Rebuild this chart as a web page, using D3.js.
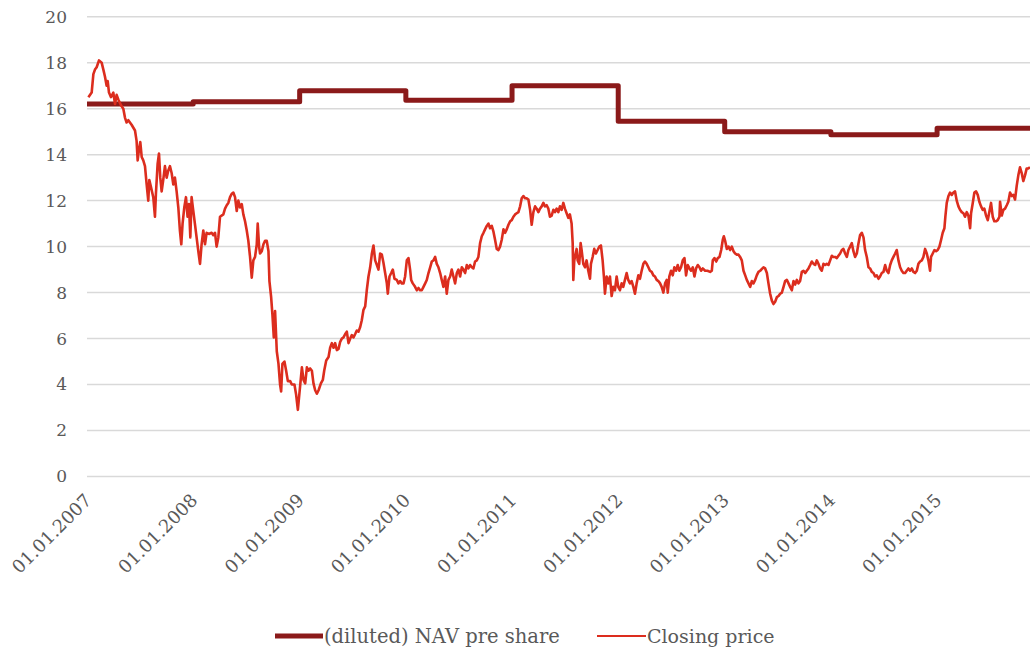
<!DOCTYPE html>
<html>
<head>
<meta charset="utf-8">
<script src="https://cdn.jsdelivr.net/npm/d3@7"></script>
<style>
  html, body { margin: 0; padding: 0; background: #fff; }
  svg { display: block; }
  text { font-family: "DejaVu Serif", "Liberation Serif", serif; fill: #595959; }
</style>
</head>
<body>
<svg id="chart" width="1030" height="650"></svg>
<script>
// ---------- DATA ----------
const yTicks = [0, 2, 4, 6, 8, 10, 12, 14, 16, 18, 20];
const xTickYears = [2007, 2008, 2009, 2010, 2011, 2012, 2013, 2014, 2015];
const seriesNames = ["(diluted) NAV pre share", "Closing price"];

// NAV per share: value valid from start year until next step
const navStart = [2007, 2008, 2009, 2010, 2011, 2012, 2013, 2014, 2015, 2015.875];
const navValue = [16.2, 16.3, 16.78, 16.37, 17.0, 15.45, 15.0, 14.87, 15.15, 15.15];

// Closing price: [decimal year, price]
const closingPrice = [
[2007.013,16.5],[2007.044,16.7],[2007.060,17.5],[2007.075,17.7],[2007.091,17.8],[2007.113,18.1],[2007.138,18.0],[2007.154,17.7],[2007.169,17.4],[2007.185,17.0],[2007.195,17.2],[2007.207,16.7],[2007.226,16.5],[2007.248,16.7],[2007.264,16.2],[2007.279,16.6],[2007.295,16.4],[2007.320,16.15],[2007.342,16.0],[2007.358,15.6],[2007.373,15.4],[2007.389,15.5],[2007.420,15.3],[2007.452,15.05],[2007.467,14.6],[2007.477,13.75],[2007.489,14.2],[2007.502,14.55],[2007.515,13.9],[2007.530,13.75],[2007.546,13.5],[2007.562,12.7],[2007.577,12.0],[2007.587,12.9],[2007.602,12.6],[2007.624,12.15],[2007.640,11.3],[2007.649,12.3],[2007.665,13.6],[2007.678,14.05],[2007.690,13.0],[2007.703,12.4],[2007.718,12.9],[2007.734,13.5],[2007.750,13.0],[2007.765,13.3],[2007.781,13.5],[2007.797,13.2],[2007.813,12.7],[2007.828,13.0],[2007.844,12.4],[2007.860,11.7],[2007.875,10.7],[2007.888,10.1],[2007.900,11.0],[2007.916,11.7],[2007.932,12.15],[2007.947,11.3],[2007.960,11.85],[2007.973,10.4],[2007.985,12.15],
[2008.001,11.55],[2008.016,11.0],[2008.032,10.4],[2008.048,9.8],[2008.064,9.25],[2008.079,10.1],[2008.095,10.7],[2008.111,10.1],[2008.126,10.6],[2008.148,10.55],[2008.173,10.6],[2008.189,10.5],[2008.205,10.6],[2008.220,10.0],[2008.236,10.4],[2008.252,11.3],[2008.267,11.35],[2008.283,11.4],[2008.299,11.65],[2008.315,11.8],[2008.330,11.9],[2008.346,12.15],[2008.362,12.3],[2008.377,12.35],[2008.393,12.15],[2008.409,11.55],[2008.424,12.0],[2008.440,11.7],[2008.456,11.85],[2008.471,11.4],[2008.487,11.1],[2008.503,10.7],[2008.518,10.25],[2008.534,9.55],[2008.550,8.65],[2008.565,9.4],[2008.581,9.55],[2008.597,10.1],[2008.606,11.0],[2008.619,10.0],[2008.628,9.7],[2008.644,9.8],[2008.660,10.1],[2008.675,10.25],[2008.691,10.25],[2008.707,9.8],[2008.716,8.5],[2008.732,7.8],[2008.744,7.05],[2008.757,6.05],[2008.769,7.2],[2008.785,5.45],[2008.801,4.9],[2008.816,4.0],[2008.826,3.7],[2008.838,4.9],[2008.857,5.0],[2008.873,4.6],[2008.889,4.15],[2008.911,4.15],[2008.926,4.0],[2008.951,4.0],[2008.967,3.55],[2008.983,2.9],
[2009.021,4.75],[2009.036,4.2],[2009.052,4.05],[2009.068,4.75],[2009.083,4.6],[2009.099,4.7],[2009.115,4.6],[2009.130,4.05],[2009.146,3.75],[2009.162,3.6],[2009.178,3.75],[2009.200,4.05],[2009.218,4.2],[2009.231,4.6],[2009.250,5.05],[2009.272,5.2],[2009.287,5.6],[2009.303,5.8],[2009.319,5.6],[2009.334,5.8],[2009.350,5.5],[2009.366,5.55],[2009.381,5.85],[2009.397,6.0],[2009.413,6.05],[2009.429,6.2],[2009.444,6.3],[2009.460,5.8],[2009.476,6.0],[2009.491,6.15],[2009.507,6.05],[2009.523,6.2],[2009.538,6.35],[2009.554,6.3],[2009.570,6.5],[2009.585,6.8],[2009.601,7.25],[2009.617,7.4],[2009.632,8.1],[2009.648,8.7],[2009.664,9.1],[2009.680,9.7],[2009.695,10.05],[2009.711,9.4],[2009.727,9.2],[2009.742,9.0],[2009.758,9.7],[2009.774,9.65],[2009.789,9.3],[2009.805,8.85],[2009.821,8.4],[2009.830,7.95],[2009.846,8.7],[2009.862,8.85],[2009.877,9.0],[2009.893,8.6],[2009.915,8.55],[2009.930,8.4],[2009.946,8.5],[2009.962,8.4],[2009.978,8.4],[2009.993,8.7],
[2010.009,9.4],[2010.025,9.5],[2010.040,9.0],[2010.050,8.55],[2010.065,8.4],[2010.087,8.25],[2010.103,8.1],[2010.119,8.2],[2010.134,8.1],[2010.150,8.1],[2010.166,8.25],[2010.182,8.4],[2010.197,8.55],[2010.213,8.85],[2010.229,9.1],[2010.244,9.35],[2010.260,9.4],[2010.276,9.55],[2010.291,9.25],[2010.307,9.1],[2010.323,8.85],[2010.338,8.55],[2010.354,8.25],[2010.370,8.7],[2010.385,7.95],[2010.401,8.55],[2010.417,8.7],[2010.432,9.0],[2010.448,8.7],[2010.464,8.4],[2010.480,8.85],[2010.495,9.0],[2010.511,8.7],[2010.527,9.1],[2010.542,9.0],[2010.558,8.85],[2010.574,9.2],[2010.589,9.05],[2010.605,9.2],[2010.621,9.1],[2010.636,9.05],[2010.652,9.35],[2010.668,9.4],[2010.683,9.55],[2010.699,10.15],[2010.715,10.45],[2010.731,10.6],[2010.746,10.75],[2010.762,10.9],[2010.778,11.0],[2010.793,10.8],[2010.809,10.9],[2010.825,10.65],[2010.840,10.3],[2010.856,9.9],[2010.872,9.85],[2010.887,10.0],[2010.903,10.3],[2010.919,10.75],[2010.934,10.6],[2010.950,10.75],[2010.966,10.95],[2010.982,11.1],[2010.997,11.15],
[2011.013,11.3],[2011.029,11.4],[2011.044,11.45],[2011.060,11.5],[2011.076,11.75],[2011.091,12.1],[2011.107,12.2],[2011.123,12.1],[2011.138,12.1],[2011.154,12.05],[2011.170,11.6],[2011.185,10.95],[2011.201,11.5],[2011.217,11.75],[2011.232,11.65],[2011.248,11.5],[2011.263,11.65],[2011.279,11.75],[2011.295,11.9],[2011.310,11.75],[2011.326,11.8],[2011.342,11.65],[2011.357,11.3],[2011.373,11.35],[2011.389,11.6],[2011.404,11.5],[2011.420,11.65],[2011.436,11.5],[2011.451,11.75],[2011.467,11.6],[2011.483,11.9],[2011.498,11.65],[2011.514,11.45],[2011.530,11.25],[2011.545,11.4],[2011.561,11.0],[2011.571,10.15],[2011.577,8.55],[2011.586,9.4],[2011.599,9.7],[2011.608,9.9],[2011.618,9.4],[2011.633,9.25],[2011.646,10.15],[2011.655,9.85],[2011.671,9.25],[2011.687,9.1],[2011.702,9.4],[2011.718,8.95],[2011.734,8.6],[2011.743,9.25],[2011.759,9.55],[2011.774,9.9],[2011.790,9.7],[2011.806,9.85],[2011.822,10.0],[2011.837,10.05],[2011.853,9.4],[2011.865,8.7],[2011.875,7.95],[2011.891,8.7],[2011.906,8.4],[2011.922,8.7],[2011.938,7.85],[2011.953,8.25],[2011.969,8.1],[2011.985,8.7],
[2012.000,8.25],[2012.016,8.1],[2012.032,8.4],[2012.047,8.25],[2012.063,8.55],[2012.079,8.85],[2012.094,8.55],[2012.110,8.4],[2012.126,8.5],[2012.142,8.25],[2012.157,7.95],[2012.173,8.4],[2012.189,8.75],[2012.204,8.6],[2012.220,8.95],[2012.236,9.25],[2012.251,9.35],[2012.267,9.25],[2012.283,9.1],[2012.298,8.95],[2012.314,8.9],[2012.330,8.75],[2012.345,8.7],[2012.361,8.55],[2012.377,8.5],[2012.393,8.4],[2012.408,8.25],[2012.424,8.0],[2012.440,8.4],[2012.455,8.55],[2012.465,8.0],[2012.480,8.7],[2012.496,8.95],[2012.512,8.75],[2012.527,9.1],[2012.543,8.95],[2012.559,9.2],[2012.574,8.95],[2012.590,9.1],[2012.606,9.4],[2012.622,9.5],[2012.637,8.75],[2012.653,9.2],[2012.669,9.05],[2012.684,8.95],[2012.700,9.1],[2012.716,8.7],[2012.731,9.05],[2012.747,9.2],[2012.763,9.1],[2012.778,8.95],[2012.794,9.05],[2012.816,8.95],[2012.838,8.95],[2012.863,8.9],[2012.879,8.95],[2012.888,9.4],[2012.904,9.5],[2012.920,9.35],[2012.935,9.5],[2012.951,9.55],[2012.967,9.85],[2012.982,10.3],[2012.992,10.45],
[2013.004,10.25],[2013.020,9.9],[2013.036,10.0],[2013.051,9.85],[2013.067,10.0],[2013.083,9.8],[2013.098,9.7],[2013.114,9.65],[2013.130,9.65],[2013.145,9.55],[2013.161,9.4],[2013.177,8.95],[2013.193,8.75],[2013.208,8.55],[2013.224,8.4],[2013.240,8.25],[2013.255,8.5],[2013.271,8.4],[2013.287,8.55],[2013.302,8.75],[2013.318,8.9],[2013.334,8.95],[2013.365,9.1],[2013.381,9.05],[2013.397,8.85],[2013.412,8.4],[2013.428,7.95],[2013.444,7.65],[2013.459,7.5],[2013.475,7.6],[2013.491,7.8],[2013.507,7.85],[2013.522,7.95],[2013.538,8.0],[2013.554,8.25],[2013.569,8.5],[2013.585,8.55],[2013.601,8.4],[2013.616,8.25],[2013.632,8.1],[2013.648,8.5],[2013.663,8.35],[2013.679,8.55],[2013.695,8.4],[2013.710,8.5],[2013.726,8.9],[2013.742,8.95],[2013.758,8.85],[2013.773,8.95],[2013.789,9.05],[2013.805,9.2],[2013.820,9.35],[2013.836,9.25],[2013.852,9.2],[2013.867,9.4],[2013.883,9.25],[2013.899,9.05],[2013.914,8.95],[2013.930,9.25],[2013.946,9.2],[2013.961,9.25],[2013.977,9.2],[2013.993,9.4],
[2014.009,9.6],[2014.024,9.55],[2014.040,9.55],[2014.056,9.5],[2014.071,9.6],[2014.087,9.7],[2014.103,9.85],[2014.118,9.9],[2014.134,9.7],[2014.150,9.55],[2014.165,9.85],[2014.181,10.0],[2014.197,10.15],[2014.212,9.8],[2014.228,9.55],[2014.244,9.7],[2014.260,10.15],[2014.275,10.5],[2014.291,10.6],[2014.307,10.4],[2014.322,9.85],[2014.338,9.55],[2014.354,9.1],[2014.369,9.05],[2014.385,8.9],[2014.401,8.85],[2014.416,8.7],[2014.432,8.75],[2014.448,8.6],[2014.463,8.7],[2014.479,8.85],[2014.495,8.9],[2014.511,9.2],[2014.526,8.95],[2014.542,8.85],[2014.558,9.2],[2014.573,9.4],[2014.589,9.55],[2014.605,9.7],[2014.620,9.85],[2014.636,9.4],[2014.652,9.1],[2014.667,8.95],[2014.683,8.85],[2014.699,8.85],[2014.714,8.95],[2014.730,9.05],[2014.746,8.95],[2014.762,9.05],[2014.777,8.9],[2014.793,8.85],[2014.809,8.95],[2014.824,9.25],[2014.840,9.35],[2014.856,9.4],[2014.871,9.55],[2014.887,9.9],[2014.903,9.7],[2014.918,9.4],[2014.934,8.95],[2014.943,9.55],[2014.959,9.7],[2014.975,9.85],[2014.991,9.8],
[2015.006,9.85],[2015.022,10.0],[2015.038,10.3],[2015.053,10.6],[2015.069,10.8],[2015.078,11.3],[2015.091,11.9],[2015.107,12.2],[2015.122,12.35],[2015.138,12.25],[2015.154,12.35],[2015.169,12.4],[2015.185,12.0],[2015.201,11.75],[2015.216,11.6],[2015.232,11.5],[2015.248,11.45],[2015.263,11.3],[2015.279,11.5],[2015.295,11.35],[2015.311,10.8],[2015.320,11.45],[2015.336,11.9],[2015.351,12.35],[2015.367,12.4],[2015.383,12.25],[2015.398,11.95],[2015.414,11.75],[2015.430,11.6],[2015.445,11.65],[2015.461,11.35],[2015.477,11.15],[2015.492,11.5],[2015.508,11.9],[2015.524,11.3],[2015.539,11.1],[2015.555,11.1],[2015.571,11.15],[2015.587,11.3],[2015.593,11.95],[2015.609,11.35],[2015.624,11.6],[2015.640,11.65],[2015.656,11.8],[2015.671,11.95],[2015.687,12.35],[2015.703,12.2],[2015.718,12.25],[2015.734,12.05],[2015.750,12.65],[2015.765,13.1],[2015.781,13.45],[2015.797,13.2],[2015.812,12.85],[2015.828,13.1],[2015.844,13.4],[2015.859,13.4],[2015.875,13.45]
];

const xDomainYears = [2007, 2015.875];

// ---------- HELPERS ----------
function yearToDate(t) {
  const y = Math.floor(t);
  const a = Date.UTC(y, 0, 1), b = Date.UTC(y + 1, 0, 1);
  return new Date(a + (t - y) * (b - a));
}

// ---------- LAYOUT ----------
const svg = d3.select("#chart");
const W = 1030, H = 650;
const margin = { left: 87, right: 0, top: 16.7, bottom: 650 - 476.5 };

const x = d3.scaleUtc()
  .domain(xDomainYears.map(yearToDate))
  .range([margin.left, W - margin.right]);
const y = d3.scaleLinear()
  .domain([0, 20])
  .range([H - margin.bottom, margin.top]);

// Gridlines
svg.append("g").selectAll("line")
  .data(yTicks)
  .join("line")
  .attr("x1", margin.left).attr("x2", W)
  .attr("y1", d => y(d)).attr("y2", d => y(d))
  .attr("stroke", "#d9d9d9").attr("stroke-width", 1.5);

// Y axis labels
const yAxis = d3.axisLeft(y).tickValues(yTicks).tickSize(0).tickPadding(0).tickFormat(d3.format("d"));
const gy = svg.append("g").attr("transform", `translate(${margin.left - 20},0)`).call(yAxis);
gy.select(".domain").remove();
gy.selectAll("text").attr("font-size", 17).attr("fill", "#595959")
  .style("font-family", '"DejaVu Serif", serif');

// X axis labels
const xAxis = d3.axisBottom(x)
  .tickValues(xTickYears.map(yearToDate))
  .tickSize(0).tickPadding(0)
  .tickFormat(d3.utcFormat("%d.%m.%Y"));
const gx = svg.append("g").attr("transform", `translate(0,${y(0)})`).call(xAxis);
gx.select(".domain").remove();
gx.selectAll("text")
  .attr("font-size", 18).attr("fill", "#595959")
  .style("font-family", '"DejaVu Serif", serif')
  .attr("text-anchor", "end")
  .attr("dy", 0).attr("y", 0)
  .attr("transform", "translate(5,25) rotate(-45)");

// NAV step line
const navData = navStart.map((t, i) => [yearToDate(t), navValue[i]]);
const navLine = d3.line().x(d => x(d[0])).y(d => y(d[1])).curve(d3.curveStepAfter);
svg.append("path")
  .datum(navData)
  .attr("d", navLine)
  .attr("fill", "none")
  .attr("stroke", "#8b1a1a")
  .attr("stroke-width", 5)
  .attr("stroke-linejoin", "round");

// Closing price
const priceLine = d3.line().x(d => x(yearToDate(d[0]))).y(d => y(d[1]));
svg.append("path")
  .datum(closingPrice)
  .attr("d", priceLine)
  .attr("fill", "none")
  .attr("stroke", "#dc2d1e")
  .attr("stroke-width", 2.6)
  .attr("stroke-linejoin", "round");

// Legend
const legend = svg.append("g").attr("transform", "translate(0,636)");
const lg1 = legend.append("g").attr("transform", "translate(275,0)");
lg1.append("line").attr("x1", 0).attr("x2", 48).attr("y1", 0).attr("y2", 0)
  .attr("stroke", "#8b1a1a").attr("stroke-width", 5);
lg1.append("text").attr("x", 49).attr("y", 6.5).attr("font-size", 19.5).text(seriesNames[0]);
const lg2 = legend.append("g").attr("transform", "translate(597,0)");
lg2.append("line").attr("x1", 0).attr("x2", 49).attr("y1", 0).attr("y2", 0)
  .attr("stroke", "#dc2d1e").attr("stroke-width", 2.2);
lg2.append("text").attr("x", 50).attr("y", 6.5).attr("font-size", 19).text(seriesNames[1]);
</script>
</body>
</html>
